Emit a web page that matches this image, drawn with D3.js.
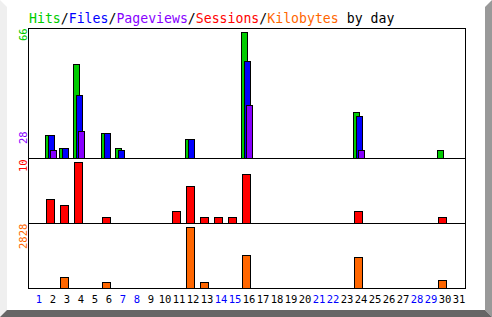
<!DOCTYPE html>
<html>
<head>
	<script src="https://cdn.jsdelivr.net/npm/d3@7/dist/d3.min.js"></script>
	<style>
		html, body {
			padding: 0;
			margin: 0;
		}
	</style>
</head>
<body>
	<script>
		var width = 492, height = 317;

		// data
		var days = [1,2,3,4,5,6,7,8,9,10,11,12,13,14,15,16,17,18,19,20,21,22,23,24,25,26,27,28,29,30,31];
		var weekend = [1,7,8,14,15,21,22,28,29];
		var hits =      [0,12,5,49,0,13,5,0,0,0,0,10,0,0,0,66,0,0,0,0,0,0,0,24,0,0,0,0,0,4,0];
		var files =     [0,12,5,33,0,13,4,0,0,0,0,10,0,0,0,51,0,0,0,0,0,0,0,22,0,0,0,0,0,0,0];
		var pageviews = [0,4,0,14,0,0,0,0,0,0,0,0,0,0,0,28,0,0,0,0,0,0,0,4,0,0,0,0,0,0,0];
		var sessions =  [0,4,3,10,0,1,0,0,0,0,2,6,1,1,1,8,0,0,0,0,0,0,0,2,0,0,0,0,0,1,0];
		var kbytes =    [0,0,510,0,0,264,0,0,0,0,0,2828,264,0,0,1516,0,0,0,0,0,0,0,1423,0,0,0,0,0,357,0];

		var cGreen = '#00cc00', cBlue = '#0000ff', cPurple = '#8800ff', cRed = '#ff0000', cOrange = '#ff6600';
		var mono = "'DejaVu Sans Mono', monospace";

		var svg = d3.select('body').append('svg')
			.attr('width', width)
			.attr('height', height)
			.style('display', 'block')
			.style('background-color', 'white');

		// bevel border
		svg.append('polygon').attr('points', '0,0 7,7 7,310 0,317').attr('fill', '#efefef');
		svg.append('polygon').attr('points', '492,0 492,317 485,310 485,7').attr('fill', '#999999');
		svg.append('polygon').attr('points', '0,317 492,317 485,310 7,310').attr('fill', '#666666');

		// title
		var title = svg.append('text')
			.attr('x', 29)
			.attr('y', 22.5)
			.style('font-family', mono)
			.style('font-size', '13.2px');
		[['Hits', cGreen], ['/', 'black'], ['Files', cBlue], ['/', 'black'], ['Pageviews', cPurple],
		 ['/', 'black'], ['Sessions', cRed], ['/', 'black'], ['Kilobytes', cOrange], [' by day', 'black']]
			.forEach(function(p) {
				title.append('tspan').attr('fill', p[1]).style('white-space', 'pre').text(p[0]);
			});

		var x = d3.scaleBand().domain(days).range([32, 466]);

		var yTop = d3.scaleLinear().domain([0, d3.max(hits)]).range([158, 32]);
		var yMid = d3.scaleLinear().domain([0, d3.max(sessions)]).range([223, 162]);
		var yBot = d3.scaleLinear().domain([0, d3.max(kbytes)]).range([288, 227]);

		function bars(values, y, off, w, color) {
			var base = y(0);
			svg.append('g').selectAll('rect')
				.data(days.filter(function(d, i) { return values[i] > 0; }))
				.join('rect')
				.attr('x', function(d) { return x(d) + off + 0.5; })
				.attr('y', function(d) { return Math.round(y(values[d - 1])) + 0.5; })
				.attr('width', w)
				.attr('height', function(d) { return base - Math.round(y(values[d - 1])); })
				.attr('fill', color)
				.attr('stroke', 'black')
				.attr('stroke-width', 1);
		}

		bars(hits, yTop, -1, 6, cGreen);
		bars(files, yTop, 2, 6, cBlue);
		bars(pageviews, yTop, 4, 6, cPurple);
		bars(sessions, yMid, 0, 8, cRed);
		bars(kbytes, yBot, 0, 8, cOrange);

		// frame and dividers
		svg.append('rect')
			.attr('x', 28.5).attr('y', 28.5)
			.attr('width', 437).attr('height', 260)
			.attr('fill', 'none').attr('stroke', 'black');
		[158.5, 223.5].forEach(function(yy) {
			svg.append('line')
				.attr('x1', 28).attr('x2', 466)
				.attr('y1', yy).attr('y2', yy)
				.attr('stroke', 'black');
		});

		// max value labels, rotated
		function maxLabel(txt, yEnd, color) {
			svg.append('text')
				.attr('transform', 'translate(27,' + yEnd + ') rotate(-90)')
				.attr('fill', color)
				.style('font-family', mono)
				.style('font-size', '10.5px')
				.text(txt);
		}
		maxLabel(d3.max(hits), 41, cGreen);
		maxLabel(d3.max(pageviews), 144, cPurple);
		maxLabel(d3.max(sessions), 172, cRed);
		maxLabel(d3.max(kbytes), 249, cOrange);

		// day labels
		svg.append('g').selectAll('text')
			.data(days)
			.join('text')
			.attr('x', function(d) { return x(d) + x.bandwidth() / 2; })
			.attr('y', 302.5)
			.attr('text-anchor', 'middle')
			.attr('fill', function(d) { return weekend.indexOf(d) >= 0 ? cBlue : 'black'; })
			.style('font-family', mono)
			.style('font-size', '10.5px')
			.text(function(d) { return d; });
	</script>
</body>
</html>
